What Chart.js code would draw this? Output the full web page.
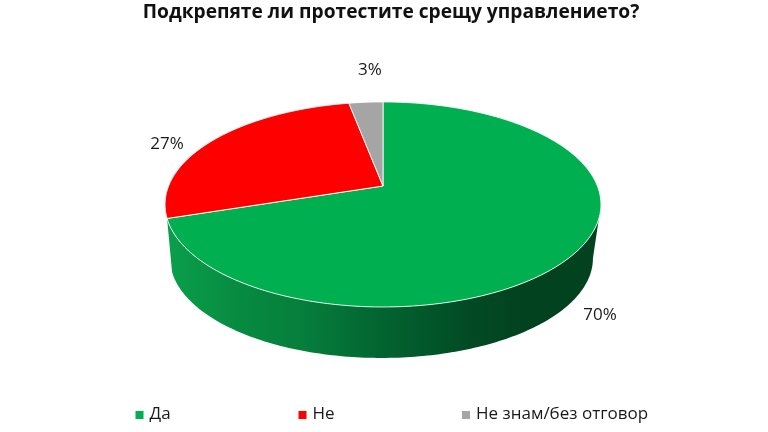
<!DOCTYPE html>
<html><head><meta charset="utf-8">
<style>html,body{margin:0;padding:0;background:#fff}canvas{display:block}</style>
<script src="https://cdn.jsdelivr.net/npm/chart.js@4/dist/chart.umd.js"></script>
</head><body><canvas id="c" width="768" height="432"></canvas>
<script>
const titleText = 'Подкрепяте ли протестите срещу управлението?';
const categories = ['Да', 'Не', 'Не знам/без отговор'];
const values = [70, 27, 3];
const colors = ['#00AF50', '#FF0000', '#A5A5A5'];
const FONT = '"Open Sans"';

// 3D view of the disc: a projective map of the unit circle
const view = {k: -0.18, a: 214.4, b: 99.2, y0: 186, depthScale: 0.97, y1: 240.6, lowerDx: -1.5};
const labelOffsets = [[23, 64], [-47, 4], [4, -32]];
const legendX = [135.5, 298.5, 462];

function upperRim(cx, ang) {
  const u = Math.cos(ang), v = Math.sin(ang), d = 1 + view.k * v;
  return [cx + view.a * u / d, view.y0 + view.b * v / d];
}
function lowerRim(cx, ang) {
  const u = Math.cos(ang), v = Math.sin(ang), d = 1 + view.k * v;
  return [cx + view.lowerDx + view.depthScale * view.a * u / d, view.y1 + view.depthScale * view.b * v / d];
}
const pie3d = {
  id: 'pie3d',
  afterLayout(chart) { chart.titleBlock.left += 16; chart.titleBlock.top += 1; },
  beforeDatasetsDraw(chart) {
    const ctx = chart.ctx, arcs = chart.getDatasetMeta(0).data, cx = arcs[0].x;
    const wallStart = Math.asin(0.18), wallEnd = arcs[0].endAngle;
    const grad = ctx.createLinearGradient(172, 0, 600, 0);
    grad.addColorStop(0, '#0A9E4B');
    grad.addColorStop(0.16, '#068A40');
    grad.addColorStop(0.30, '#067F3C');
    grad.addColorStop(0.49, '#026430');
    grad.addColorStop(0.70, '#024A24');
    grad.addColorStop(0.82, '#03421F');
    grad.addColorStop(1, '#03421F');
    ctx.save();
    ctx.beginPath();
    const N = 160;
    for (let i = 0; i <= N; i++) {
      const p = upperRim(cx, wallStart + (wallEnd - wallStart) * i / N);
      i ? ctx.lineTo(p[0], p[1]) : ctx.moveTo(p[0], p[1]);
    }
    for (let i = N; i >= 0; i--) {
      const p = lowerRim(cx, wallStart + (wallEnd - wallStart) * i / N);
      ctx.lineTo(p[0], p[1]);
    }
    ctx.closePath();
    ctx.fillStyle = grad;
    ctx.fill();
    arcs.forEach((arc, i) => {
      ctx.beginPath();
      ctx.moveTo(cx, view.y0);
      const n = Math.max(4, Math.ceil((arc.endAngle - arc.startAngle) * 40));
      for (let j = 0; j <= n; j++) {
        const p = upperRim(cx, arc.startAngle + (arc.endAngle - arc.startAngle) * j / n);
        ctx.lineTo(p[0], p[1]);
      }
      ctx.closePath();
      ctx.fillStyle = colors[i];
      ctx.fill();
      ctx.strokeStyle = 'rgba(255,255,255,0.85)';
      ctx.lineWidth = 1;
      ctx.stroke();
    });
    ctx.restore();
    return false;
  },
  afterDraw(chart) {
    const ctx = chart.ctx, arcs = chart.getDatasetMeta(0).data, cx = arcs[0].x;
    ctx.save();
    ctx.fillStyle = '#1a1a1a';
    ctx.font = '17px ' + FONT;
    ctx.textAlign = 'center';
    ctx.textBaseline = 'middle';
    arcs.forEach((arc, i) => {
      const p = upperRim(cx, (arc.startAngle + arc.endAngle) / 2);
      ctx.fillText(values[i] + '%', p[0] + labelOffsets[i][0], p[1] + labelOffsets[i][1]);
    });
    ctx.textAlign = 'left';
    categories.forEach((name, i) => {
      ctx.fillStyle = colors[i];
      ctx.fillRect(legendX[i], 411, 8, 8);
      ctx.fillStyle = '#1a1a1a';
      ctx.fillText(name, legendX[i] + 14, 414);
    });
    ctx.restore();
  }
};
new Chart(document.getElementById('c'), {
  type: 'pie',
  data: {labels: categories, datasets: [{data: values, backgroundColor: colors, borderColor: '#fff', borderWidth: 1}]},
  options: {
    responsive: false,
    animation: false,
    layout: {padding: {right: 2}},
    plugins: {
      legend: {display: false},
      tooltip: {enabled: false},
      title: {display: true, text: titleText, color: '#111', font: {family: FONT, size: 19.2, weight: 'bold'}, padding: {top: 0, bottom: 10}}
    }
  },
  plugins: [pie3d]
});
</script></body></html>
